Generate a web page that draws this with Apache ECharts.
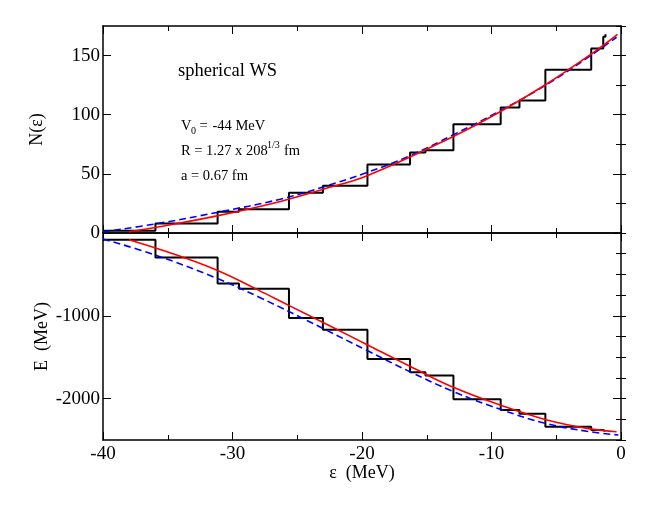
<!DOCTYPE html>
<html>
<head>
<meta charset="utf-8">
<script src="https://cdn.jsdelivr.net/npm/echarts@6/dist/echarts.min.js"></script>
<style>
html, body { margin: 0; padding: 0; background: #fff; }
#main { width: 670px; height: 518px; }
</style>
</head>
<body>
<div id="main"></div>
<script>
// 台阶: 能级位置与累计 N(ε)、E
var levelEps = [-40, -35.95, -31.15, -29.5, -25.64, -23.02, -19.58, -16.29, -15.1, -12.94, -9.29, -7.84, -5.84, -2.3, -1.37, -1.2];
var levelN = [2, 8, 18, 20, 34, 40, 58, 68, 70, 92, 106, 112, 138, 156, 166, 168];
var levelE = [-81, -296, -611, -672, -1028, -1168, -1523, -1683, -1720, -2008, -2137, -2182, -2340, -2380, -2392, -2394];

// 红线 (实线)
var redNx = [-38, -36, -31.2, -26.3, -23, -19.6, -12.95, -9.3, -5.84, -2.34, -0.27];
var redNy = [1, 4.6, 14.5, 26.7, 37, 48.4, 81.6, 102.7, 125.3, 151, 168];
var redEx = [-38, -35, -31.2, -28, -25.7, -22, -19.6, -16.3, -12.95, -9.3, -5.8, -2.4, -0.34];
var redEy = [-81, -230, -450, -690, -871, -1160, -1350, -1610, -1864, -2080, -2255, -2366, -2400];

// 蓝线 (虚线)
var blueNx = [-40, -36, -31.2, -26.3, -23, -19.6, -16.3, -12.95, -9.3, -5.84, -2.34, -0.34];
var blueNy = [1, 7.6, 17.4, 28.6, 38.9, 51.2, 65.3, 83, 103.5, 124.8, 150, 165.5];
var blueEx = [-40, -36, -31.2, -27.9, -23, -19.6, -16.3, -12.95, -9.3, -5.8, -2.4, -0.2];
var blueEy = [-73, -264, -547, -778, -1154, -1420, -1675, -1915, -2130, -2300, -2400, -2440];

// 刻度
var nTicks = [0, 50, 100, 150];
var eTicks = [-2000, -1000];

var FONT = 'Liberation Serif';

function zip(xs, ys) {
    var out = [];
    for (var i = 0; i < xs.length; i++) out.push([xs[i], ys[i]]);
    return out;
}

var lineStyleAxis = { color: '#000', width: 1.5 };
var plainNum = function(v) { return String(v); };

function xAxisCfg(grid, pos, showLabel) {
    var cfg = {
        type: 'value', gridIndex: grid, position: pos,
        min: -40, max: 0, interval: 10,
        splitLine: { show: false },
        axisLine: { show: true, onZero: false, lineStyle: lineStyleAxis },
        axisTick: { show: true, inside: true, length: 8, lineStyle: { color: '#000', width: 1 } },
        minorTick: { show: true, splitNumber: 2, length: 5, lineStyle: { color: '#000', width: 1 } },
        axisLabel: { show: showLabel, margin: 5, fontFamily: FONT, fontSize: 19, color: '#000', formatter: plainNum }
    };
    if (showLabel) {
        cfg.name = 'ε  (MeV)';
        cfg.nameLocation = 'middle';
        cfg.nameGap = 24;
        cfg.nameMoveOverlap = false;
        cfg.nameTextStyle = { fontFamily: FONT, fontSize: 18, color: '#000' };
    }
    return cfg;
}

// 主刻度轴 (长刻度 + 标签)
function yMajor(grid, pos, min, max, step, ticks, labels, name, gap) {
    var cfg = {
        type: 'value', gridIndex: grid, position: pos,
        min: min, max: max, interval: step,
        splitLine: { show: false },
        axisLine: { show: true, onZero: false, lineStyle: lineStyleAxis },
        axisTick: { show: true, inside: true, length: 8, customValues: ticks, lineStyle: { color: '#000', width: 1 } },
        axisLabel: { show: !!labels, customValues: labels || [], margin: 3, fontFamily: FONT, fontSize: 19, color: '#000', formatter: plainNum }
    };
    if (name) {
        cfg.name = name;
        cfg.nameLocation = 'middle';
        cfg.nameGap = gap;
        cfg.nameMoveOverlap = false;
        cfg.nameTextStyle = { fontFamily: FONT, fontSize: 18, color: '#000' };
    }
    return cfg;
}

// 次刻度轴 (短刻度)
function yMinor(grid, pos, min, max, step) {
    return {
        type: 'value', gridIndex: grid, position: pos,
        min: min, max: max, interval: step,
        splitLine: { show: false },
        axisLine: { show: false },
        axisTick: { show: true, inside: true, length: 5, lineStyle: { color: '#000', width: 1 } },
        axisLabel: { show: false }
    };
}

function txt(x, y, s, size) {
    return { type: 'text', x: x, y: y, style: { text: s, fontFamily: FONT, fontSize: size, fill: '#000', verticalAlign: 'middle' } };
}

var chart = echarts.init(document.getElementById('main'));
chart.setOption({
    animation: false,
    backgroundColor: '#fff',
    grid: [
        { left: 103, top: 26, width: 518, height: 207 },
        { left: 103, top: 233, width: 518, height: 207 }
    ],
    xAxis: [
        xAxisCfg(0, 'bottom', false),
        xAxisCfg(0, 'top', false),
        xAxisCfg(1, 'bottom', true),
        xAxisCfg(1, 'top', false)
    ],
    yAxis: [
        yMajor(0, 'left', 0, 175, 25, nTicks, nTicks, 'N(ε)', 57),
        yMinor(0, 'left', 0, 175, 25),
        yMajor(0, 'right', 0, 175, 25, nTicks, null),
        yMinor(0, 'right', 0, 175, 25),
        yMajor(1, 'left', -2500, 0, 250, eTicks, eTicks, 'E  (MeV)', 52),
        yMinor(1, 'left', -2500, 0, 250),
        yMajor(1, 'right', -2500, 0, 250, eTicks, null),
        yMinor(1, 'right', -2500, 0, 250)
    ],
    graphic: [
        txt(178, 71, 'spherical WS', 18.5),
        txt(181, 126, 'V', 14.5),
        txt(191, 131, '0', 10),
        txt(199.5, 126, '=', 14.5),
        txt(212.5, 126, '-44 MeV', 14.5),
        txt(181, 151.5, 'R = 1.27 x 208', 14.5),
        txt(267, 145, '1/3', 10),
        txt(284, 151.5, 'fm', 14.5),
        txt(181, 176, 'a = 0.67 fm', 14.5)
    ],
    series: [
        {
            type: 'line', xAxisIndex: 0, yAxisIndex: 0, step: 'end',
            data: zip(levelEps, levelN), symbol: 'none',
            lineStyle: { color: '#000', width: 2 }, z: 2
        },
        {
            type: 'line', xAxisIndex: 0, yAxisIndex: 0, smooth: 0.4,
            data: zip(blueNx, blueNy), symbol: 'none',
            lineStyle: { color: '#0000ff', width: 1.6, type: [7, 4] }, z: 3
        },
        {
            type: 'line', xAxisIndex: 0, yAxisIndex: 0, smooth: 0.4,
            data: zip(redNx, redNy), symbol: 'none',
            lineStyle: { color: '#ff0000', width: 1.6 }, z: 4
        },
        {
            type: 'line', xAxisIndex: 2, yAxisIndex: 4, step: 'end',
            data: zip(levelEps, levelE), symbol: 'none',
            lineStyle: { color: '#000', width: 2 }, z: 2
        },
        {
            type: 'line', xAxisIndex: 2, yAxisIndex: 4, smooth: 0.4,
            data: zip(blueEx, blueEy), symbol: 'none',
            lineStyle: { color: '#0000ff', width: 1.6, type: [7, 4] }, z: 3
        },
        {
            type: 'line', xAxisIndex: 2, yAxisIndex: 4, smooth: 0.4,
            data: zip(redEx, redEy), symbol: 'none',
            lineStyle: { color: '#ff0000', width: 1.6 }, z: 4
        }
    ]
});
</script>
</body>
</html>
